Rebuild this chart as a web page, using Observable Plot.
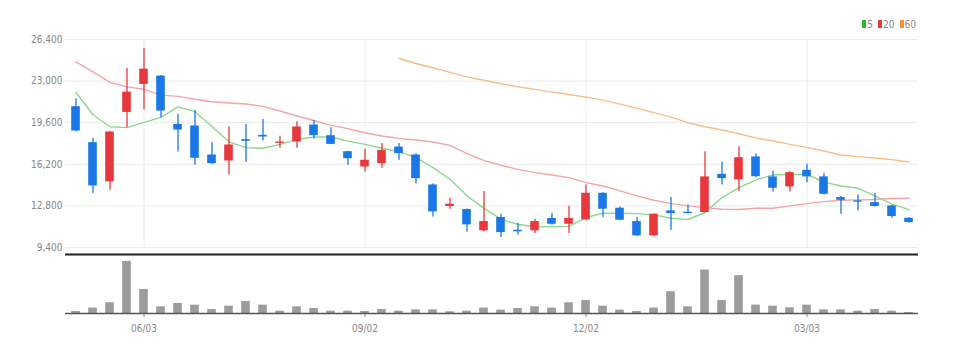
<!DOCTYPE html>
<html><head><meta charset="utf-8">
<script src="https://cdn.jsdelivr.net/npm/d3@7"></script>
<script src="https://cdn.jsdelivr.net/npm/@observablehq/plot@0.6"></script>
<style>
html,body{margin:0;padding:0;background:#fff;}
#wrap{position:relative;width:957px;height:352px;font-family:"Liberation Sans Narrow","DejaVu Sans Condensed",sans-serif;}
#legend{position:absolute;top:19px;right:41px;font-size:10px;color:#888;line-height:11px;display:flex;align-items:center;}
.sw{display:inline-block;width:4px;height:8px;margin-right:1px;}
.lg{margin-right:5px;}
.lg:last-child{margin-right:0}
svg{display:block}
</style></head><body><div id="wrap"><div id="legend"></div></div>
<script>
const dates = ["2024-05-06","2024-05-13","2024-05-20","2024-05-27","2024-06-03","2024-06-10","2024-06-17","2024-06-24","2024-07-01","2024-07-08",
"2024-07-15","2024-07-22","2024-07-29","2024-08-05","2024-08-12","2024-08-19","2024-08-26","2024-09-02","2024-09-09","2024-09-16",
"2024-09-23","2024-09-30","2024-10-07","2024-10-14","2024-10-21","2024-10-28","2024-11-04","2024-11-11","2024-11-18","2024-11-25",
"2024-12-02","2024-12-09","2024-12-16","2024-12-23","2024-12-30","2025-01-06","2025-01-13","2025-01-20","2025-01-27","2025-02-03",
"2025-02-10","2025-02-17","2025-02-24","2025-03-03","2025-03-10","2025-03-17","2025-03-24","2025-03-31","2025-04-07","2025-04-14"];

const open  = [20910,17970,14760,20440,22730,23410,19460,19330,16960,16470,18210,18570,17910,18020,19410,18540,17230,15980,16250,17610,
16960,14510,12750,12500,10760,11850,10810,10760,11770,11300,11660,13830,12610,11520,10350,12390,12280,12260,15380,14920,
16800,15170,14350,15710,15170,13480,13210,13070,12800,11790];
const high  = [21560,18320,18900,24030,25670,23460,20280,20610,17970,19270,19460,19870,18490,19680,19790,19190,17260,17420,17910,17910,
17070,14620,13430,12550,13970,12120,11390,11710,12170,12770,14510,13870,12720,11850,12150,13480,12880,17230,16390,17640,
17070,15660,15600,16200,15440,13560,13700,13810,12830,11850];
const low   = [18870,13810,14080,19190,20660,20010,17210,16120,16200,15330,16340,18100,17510,17510,18240,17800,16120,15570,15870,16530,
14620,11900,12530,10650,10680,10220,10430,10540,11220,10540,11580,11850,11580,10300,10270,10810,12150,12230,14510,13970,
15110,13940,13940,14700,13700,12120,12390,12720,11790,11390];
const close = [18920,14430,18840,22100,23980,20550,19000,16690,16250,17780,18080,18430,18020,19250,18540,17830,16660,16530,17340,17070,
15030,12310,12940,11250,11520,10620,10680,11520,11300,11770,13830,12530,11630,10350,12120,12170,12170,15170,15030,16740,
15190,14240,15520,15170,13750,13260,13100,12750,11930,11440];
const volume = [102,275,546,2652,1224,342,510,423,204,372,612,423,117,342,255,117,117,102,204,117,
189,189,87,117,275,173,255,342,275,546,663,372,173,102,275,1107,342,2213,663,1923,
428,372,291,423,189,189,117,204,117,51];

const ma5  = [22070,20250,19270,19200,19630,20040,20890,20500,19290,18040,17560,17510,17830,18240,18430,18430,18090,17830,17510,17230,
16740,15930,14980,13620,12600,11720,11280,11120,11100,11130,11850,12200,12200,12170,12070,11790,11690,12260,13480,14300,
14930,15330,15380,15380,14740,14430,14240,13620,12940,12490];
const ma20 = [24575,23760,22900,22530,22330,21855,21755,21515,21310,21210,21130,20930,20560,20150,19780,19380,19120,18780,18510,18320,
18190,18020,17750,17070,16500,16120,15790,15520,15330,15110,14700,14430,14030,13620,13260,12990,12800,12660,12530,12500,
12610,12610,12800,12990,13150,13260,13290,13320,13400,13420];
const ma60 = [null,null,null,null,null,null,null,null,null,null,null,null,null,null,null,null,null,null,null,24850,
24440,24090,23710,23350,23070,22780,22540,22320,22100,21910,21690,21450,21120,20770,20420,20060,19600,19270,19000,18700,
18350,18100,17830,17560,17290,16960,16830,16720,16580,16390];

const priceTicks = [9400,12800,16200,19600,23000,26400];
const dateTicks = ["2024-06-03","2024-09-02","2024-12-02","2025-03-03"];
const dateTickLabels = ["06/03","09/02","12/02","03/03"];
const maLabels = ["5","20","60"];
const maLegendColors = ["#2db52d","#e63c3c","#f0963a"];
const maLineColors = ["#8fd68f","#f4a4a8","#f7bd86"];
const upColor = "#e8383d", downColor = "#1a78e6";

const candles = dates.map((d,i)=>({date:d, open:open[i], high:high[i], low:low[i], close:close[i]}));
const up = candles.filter(d=>d.close>=d.open);
const down = candles.filter(d=>d.close<d.open);
const maSeries = [ma5, ma20, ma60].map(arr => dates.map((d,i)=>({date:d, v:arr[i]})));
const volRows = dates.map((d,i)=>({date:d, volume:volume[i]}));

const font = '"Liberation Sans Narrow","DejaVu Sans Condensed",sans-serif';
const W = 957, ML = 65, MR = 39;

const price = Plot.plot({
  width: W, height: 253, marginTop: 39, marginBottom: 6, marginLeft: ML, marginRight: MR,
  style: {fontFamily: font, fontSize: "10px", color: "#888", background: "transparent"},
  x: {type: "band", domain: dates, axis: null, padding: 0},
  y: {domain: [9400, 26400], ticks: priceTicks, tickFormat: d3.format(","), tickSize: 0, tickPadding: 3, label: null},
  marks: [
    Plot.ruleY(priceTicks, {stroke: "#ebebeb"}),
    Plot.ruleX(dateTicks, {stroke: "#ececec"}),
    ...maSeries.map((s,k)=>Plot.line(s, {x: "date", y: "v", stroke: maLineColors[k], strokeWidth: 1.4})),
    Plot.ruleX(up, {x: "date", y1: "low", y2: "high", stroke: upColor, strokeWidth: 1.3}),
    Plot.ruleX(down, {x: "date", y1: "low", y2: "high", stroke: downColor, strokeWidth: 1.3}),
    Plot.barY(up, {x: "date", y1: "open", y2: "close", fill: upColor, insetLeft: 4.2, insetRight: 4.2}),
    Plot.barY(down, {x: "date", y1: "open", y2: "close", fill: downColor, insetLeft: 4.2, insetRight: 4.2})
  ]
});

const vol = Plot.plot({
  width: W, height: 99, marginTop: 1, marginBottom: 39, marginLeft: ML, marginRight: MR,
  style: {fontFamily: font, fontSize: "10px", color: "#888", background: "transparent"},
  x: {type: "band", domain: dates, padding: 0, ticks: dateTicks,
      tickFormat: d => dateTickLabels[dateTicks.indexOf(d)], tickSize: 4, tickPadding: 7, label: null},
  y: {domain: [0, 3000], axis: null},
  marks: [
    Plot.barY(volRows, {x: "date", y: "volume", fill: "#9c9c9c", insetLeft: 4.2, insetRight: 4.2}),
    Plot.ruleY([0], {stroke: "#555", strokeWidth: 1.5}),
    Plot.ruleY([3000], {stroke: "#222", strokeWidth: 2})
  ]
});

const wrap = document.getElementById("wrap");
wrap.appendChild(price);
wrap.appendChild(vol);

const legend = document.getElementById("legend");
maLabels.forEach((lab,k)=>{
  const item = document.createElement("span");
  item.className = "lg";
  item.innerHTML = `<span class="sw" style="background:${maLegendColors[k]}"></span>${lab}`;
  legend.appendChild(item);
});
</script></body></html>
